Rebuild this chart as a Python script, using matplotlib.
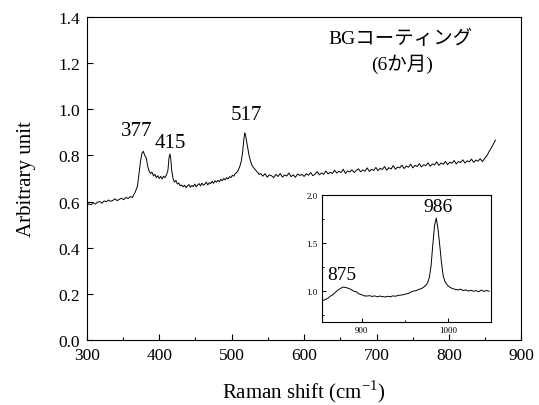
import matplotlib
matplotlib.use("Agg")
import matplotlib.pyplot as plt
from matplotlib.ticker import MultipleLocator, FormatStrFormatter

plt.rcParams['font.family'] = ['Liberation Serif', 'Noto Sans CJK JP']
plt.rcParams['mathtext.fontset'] = 'custom'
plt.rcParams['mathtext.rm'] = 'Liberation Serif'

# main spectrum
shift = [300, 303, 306, 309, 312, 315, 318, 321, 324, 327, 330, 333, 336, 339, 342, 345,
         348, 351, 354, 357, 360, 363, 365, 367, 370, 372, 374, 376, 378, 380, 382, 384,
         386, 388, 390, 392, 394, 396, 398, 400, 402, 404, 406, 408, 410, 412, 413.5,
         414.8, 416, 417, 419, 421, 423, 425, 427, 429, 431, 433, 435, 437, 439, 441, 443,
         445, 447, 449, 451, 453, 455, 457, 459, 461, 463, 465, 467, 469, 471, 473, 475,
         477, 479, 481, 483, 485, 487, 489, 491, 493, 495, 497, 499, 501, 503, 505, 507,
         509, 511, 513, 515, 516.5, 518, 519, 520, 522, 524, 526, 528, 530, 532, 534, 536,
         538, 540, 543, 546, 549, 552, 555, 558, 561, 564, 567, 570, 573, 576, 579, 582,
         585, 588, 591, 594, 597, 600, 603, 606, 609, 612, 615, 618, 621, 624, 627, 630,
         633, 636, 639, 642, 645, 648, 651, 654, 657, 660, 663, 666, 669, 672, 675, 678,
         681, 684, 687, 690, 693, 696, 699, 702, 705, 708, 711, 714, 717, 720, 723, 726,
         729, 732, 735, 738, 741, 744, 747, 750, 753, 756, 759, 762, 765, 768, 771, 774,
         777, 780, 783, 786, 789, 792, 795, 798, 801, 804, 807, 810, 813, 816, 819, 822,
         825, 828, 831, 834, 837, 840, 843, 846, 848, 851, 853, 855, 858, 861, 864]
intensity = [0.584, 0.590, 0.586, 0.595, 0.589, 0.598, 0.600, 0.593, 0.603, 0.599, 0.607,
             0.601, 0.605, 0.612, 0.604, 0.610, 0.615, 0.608, 0.618, 0.613, 0.622, 0.618,
             0.630, 0.642, 0.668, 0.720, 0.770, 0.808, 0.818, 0.800, 0.790, 0.755, 0.732,
             0.722, 0.728, 0.712, 0.718, 0.704, 0.712, 0.700, 0.709, 0.698, 0.710, 0.704,
             0.716, 0.735, 0.790, 0.806, 0.785, 0.740, 0.700, 0.684, 0.692, 0.676, 0.680,
             0.668, 0.672, 0.664, 0.671, 0.660, 0.668, 0.674, 0.662, 0.670, 0.665, 0.676,
             0.664, 0.672, 0.678, 0.668, 0.680, 0.671, 0.676, 0.684, 0.672, 0.682, 0.678,
             0.688, 0.679, 0.690, 0.684, 0.692, 0.686, 0.697, 0.690, 0.700, 0.694, 0.704,
             0.698, 0.708, 0.704, 0.714, 0.710, 0.722, 0.726, 0.736, 0.750, 0.772, 0.810,
             0.860, 0.898, 0.890, 0.872, 0.835, 0.800, 0.775, 0.757, 0.748, 0.740, 0.733,
             0.726, 0.718, 0.722, 0.710, 0.721, 0.706, 0.716, 0.712, 0.704, 0.718, 0.709,
             0.722, 0.706, 0.715, 0.711, 0.724, 0.708, 0.716, 0.705, 0.720, 0.713, 0.718,
             0.709, 0.721, 0.714, 0.726, 0.712, 0.719, 0.730, 0.716, 0.724, 0.718, 0.733,
             0.720, 0.727, 0.722, 0.736, 0.724, 0.731, 0.726, 0.740, 0.722, 0.733, 0.728,
             0.738, 0.726, 0.735, 0.742, 0.729, 0.737, 0.732, 0.746, 0.731, 0.740, 0.735,
             0.748, 0.734, 0.744, 0.739, 0.752, 0.736, 0.747, 0.741, 0.756, 0.740, 0.750,
             0.746, 0.758, 0.743, 0.754, 0.749, 0.762, 0.746, 0.757, 0.752, 0.764, 0.750,
             0.760, 0.756, 0.768, 0.753, 0.763, 0.759, 0.772, 0.757, 0.767, 0.762, 0.774,
             0.760, 0.771, 0.766, 0.778, 0.763, 0.774, 0.769, 0.781, 0.767, 0.777, 0.772,
             0.784, 0.770, 0.780, 0.775, 0.786, 0.773, 0.782, 0.794, 0.802, 0.816, 0.830,
             0.848, 0.866]

# inset spectrum
shift_in = [855, 858, 861, 864, 867, 870, 873, 876, 879, 882, 885, 888, 891, 894, 897, 900,
            903, 906, 909, 912, 915, 918, 921, 924, 927, 930, 933, 936, 939, 942, 945, 948,
            951, 954, 957, 960, 963, 966, 969, 972, 974, 976, 978, 980, 982, 984, 986, 988,
            990, 992, 994, 996, 999, 1002, 1005, 1008, 1011, 1014, 1017, 1020, 1023, 1026,
            1029, 1032, 1035, 1038, 1041, 1044, 1047]
intensity_in = [0.900, 0.912, 0.925, 0.948, 0.962, 0.990, 1.012, 1.030, 1.042, 1.036, 1.028,
                1.015, 0.998, 0.992, 0.970, 0.962, 0.950, 0.948, 0.952, 0.944, 0.950, 0.940,
                0.948, 0.942, 0.938, 0.946, 0.940, 0.950, 0.946, 0.955, 0.958, 0.962, 0.970,
                0.975, 0.990, 1.000, 1.005, 1.018, 1.025, 1.045, 1.060, 1.085, 1.140, 1.260,
                1.480, 1.680, 1.760, 1.650, 1.480, 1.300, 1.160, 1.100, 1.060, 1.038, 1.025,
                1.018, 1.012, 1.020, 1.006, 1.012, 1.000, 1.008, 0.998, 1.004, 0.994, 1.010,
                0.996, 1.006, 0.998]

peaks = ["377", "415", "517"]
peak_pos = [(369.5, 0.907), (415.5, 0.857), (519.6, 0.976)]
peaks_in = ["875", "986"]
peak_pos_in = [(876.7, 1.17), (987.7, 1.88)]

fig = plt.figure(figsize=(5.39, 4.06), dpi=100)
ax = fig.add_axes([0.161, 0.160, 0.8065, 0.7957])
ax.plot(shift, intensity, color='black', linewidth=0.7)
ax.set_xlim(300, 900)
ax.set_ylim(0.0, 1.4)
ax.xaxis.set_major_locator(MultipleLocator(100))
ax.xaxis.set_minor_locator(MultipleLocator(50))
ax.yaxis.set_major_locator(MultipleLocator(0.2))
ax.yaxis.set_major_formatter(FormatStrFormatter('%.1f'))
ax.tick_params(which='major', direction='in', length=4, width=0.8, labelsize=12.5, pad=5)
ax.tick_params(which='minor', direction='in', length=2.2, width=0.8)
for s in ax.spines.values():
    s.set_linewidth(0.8)
ax.set_xlabel("Raman shift (cm$^{\\mathrm{-1}}$)", fontsize=15, labelpad=10)
ax.set_ylabel("Arbitrary unit", fontsize=15, labelpad=16)
for lab, (px, py) in zip(peaks, peak_pos):
    ax.text(px, py, lab, fontsize=15, ha='center', va='center')
ax.text(0.721, 0.937, "BGコーティング", transform=ax.transAxes, fontsize=14,
        ha='center', va='center')
ax.text(0.725, 0.858, "(6か月)", transform=ax.transAxes, fontsize=14,
        ha='center', va='center')

ins = fig.add_axes([0.597, 0.205, 0.3137, 0.312])
ins.plot(shift_in, intensity_in, color='black', linewidth=0.7)
ins.set_xlim(854, 1049)
ins.set_ylim(0.68, 2.0)
ins.xaxis.set_major_locator(MultipleLocator(100))
ins.xaxis.set_minor_locator(MultipleLocator(50))
ins.yaxis.set_major_locator(MultipleLocator(0.5))
ins.yaxis.set_minor_locator(MultipleLocator(0.25))
ins.yaxis.set_major_formatter(FormatStrFormatter('%.1f'))
ins.tick_params(which='major', direction='in', length=3, width=0.7, labelsize=6.5, pad=3)
ins.tick_params(which='minor', direction='in', length=1.5, width=0.7)
for s in ins.spines.values():
    s.set_linewidth(0.8)
for lab, (px, py) in zip(peaks_in, peak_pos_in):
    ins.text(px, py, lab, fontsize=14, ha='center', va='center')

fig.savefig("out.png", dpi=100)
